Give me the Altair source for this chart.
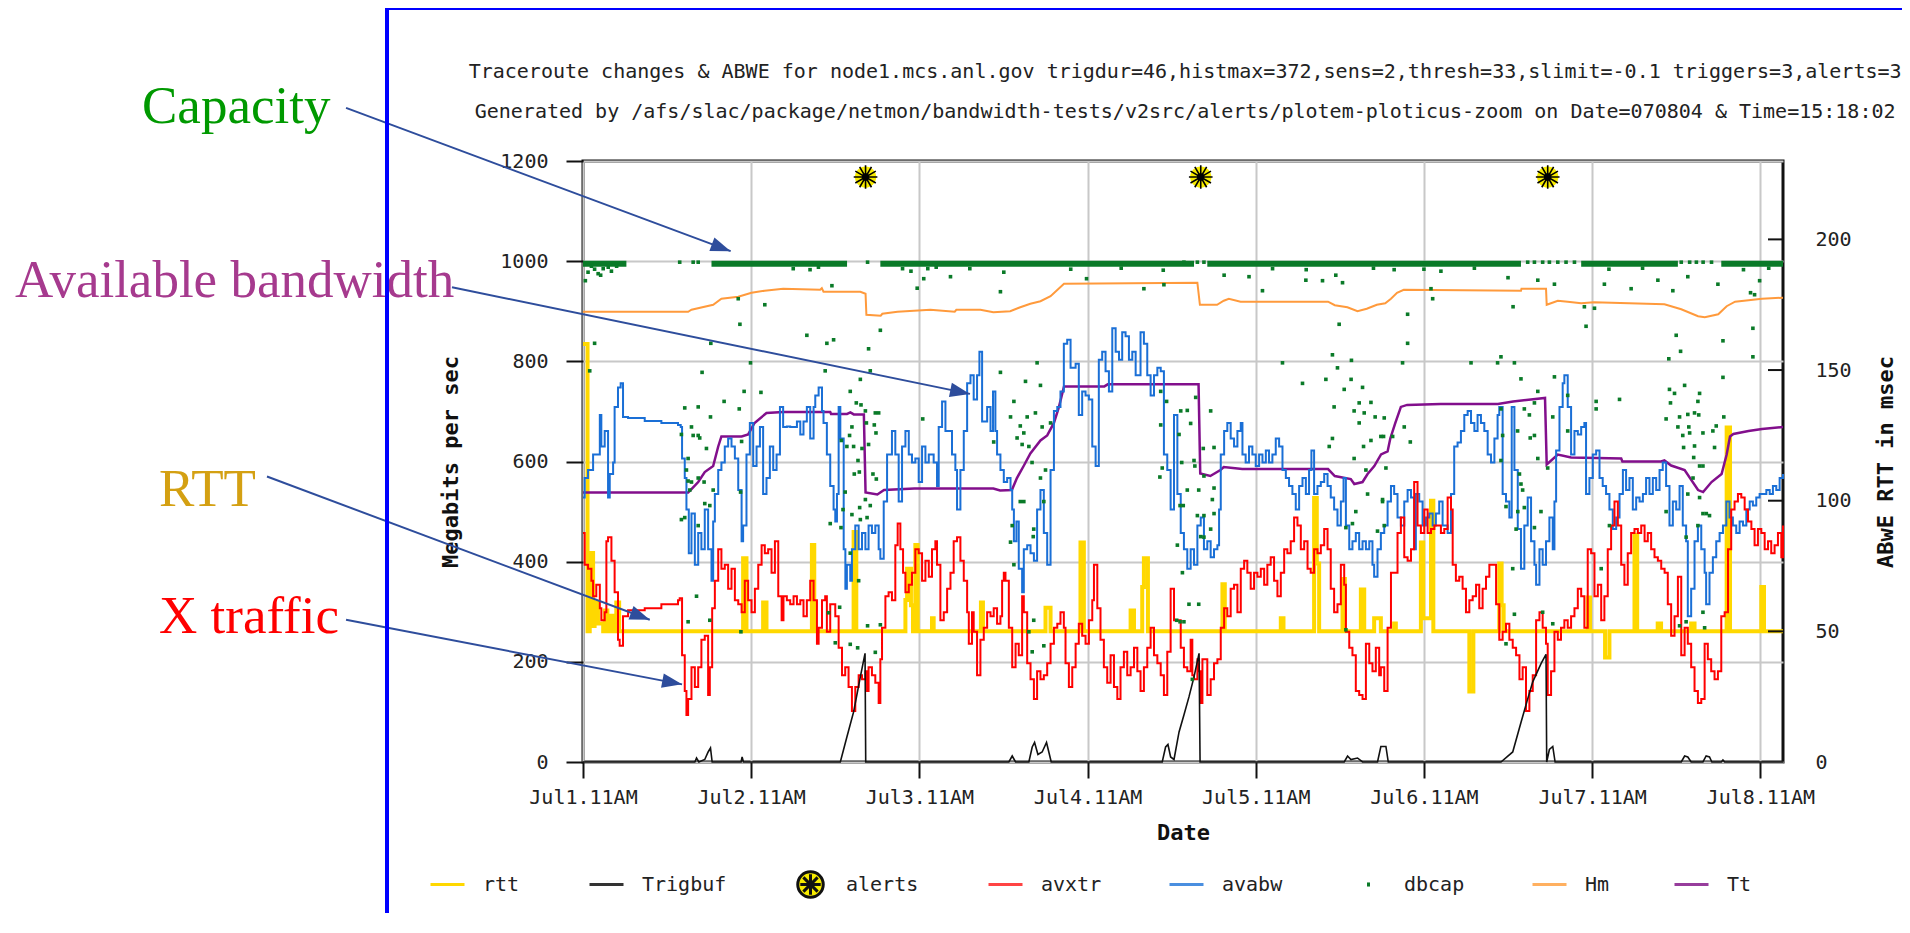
import math
import pandas as pd
import altair as alt

MONO = "DejaVu Sans Mono"
SERIF = "Liberation Serif"

# ---------------- text ----------------
title_lines = [
    "Traceroute changes & ABWE for node1.mcs.anl.gov trigdur=46,histmax=372,sens=2,thresh=33,slimit=-0.1 triggers=3,alerts=3",
    "Generated by /afs/slac/package/netmon/bandwidth-tests/v2src/alerts/plotem-ploticus-zoom on Date=070804 & Time=15:18:02",
]
title_day = [3.58, 3.58]
title_val = [1366, 1286]
tick_days = [0, 1, 2, 3, 4, 5, 6, 7]
tick_labels = ["Jul1.11AM", "Jul2.11AM", "Jul3.11AM", "Jul4.11AM",
               "Jul5.11AM", "Jul6.11AM", "Jul7.11AM", "Jul8.11AM"]
left_ticks = [0, 200, 400, 600, 800, 1000, 1200]
right_ticks = [0, 50, 100, 150, 200]
right_inner_ticks = [50, 100, 150, 200]
x_domain = [0, 7.135]
left_domain = [0, 1200]
right_domain = [0, 230]

legend_names = ["rtt", "Trigbuf", "alerts", "avxtr", "avabw", "dbcap", "Hm", "Tt"]
legend_offsets = [-154, 5, 209, 404, 585, 767, 948, 1090]   # legend entry left edges, px from plot left

# annotations (x in days, y in Mbps)
ann_text = ["Capacity", "Available bandwidth", "RTT", "X traffic"]
ann_color = ["#009900", "#a63a8e", "#d4a012", "#ff0000"]
ann_x = [-2.622, -3.377, -2.521, -2.521]
ann_y = [1276, 928, 511, 258]
arrow_x0 = [-1.409, -0.779, -1.879, -1.409]
arrow_y0 = [1306, 948, 570, 284]
arrow_x1 = [0.878, 2.301, 0.397, 0.589]
arrow_y1 = [1020, 735, 284, 155]

# ---------------- series (day offset from Jul1 11AM, value) ----------------
rtt_points = [
    (0.000, 160), (0.027, 50), (0.040, 80), (0.060, 52), (0.069, 61), (0.089, 53), (0.120, 50),
    (0.129, 58), (0.145, 50), (0.159, 56), (0.175, 50), (0.198, 61), (0.215, 50),
    (0.952, 78), (0.972, 50), (1.071, 61), (1.091, 50),
    (1.361, 83), (1.375, 50), (1.609, 88), (1.625, 50),
    (1.917, 62), (1.927, 74), (1.950, 60), (1.962, 50), (1.976, 83), (1.990, 50), (2.075, 55), (2.085, 50),
    (2.366, 61), (2.378, 50), (2.750, 59), (2.780, 50), (2.958, 84), (2.978, 50), (3.256, 58), (3.276, 50),
    (3.325, 67), (3.335, 78), (3.359, 50),
    (3.802, 68), (3.816, 50), (4.149, 55), (4.165, 50), (4.347, 101), (4.363, 76), (4.377, 50),
    (4.516, 70), (4.530, 50), (4.625, 66), (4.645, 50), (4.704, 55), (4.744, 50),
    (4.823, 53), (4.833, 50), (4.982, 84), (4.996, 55), (5.042, 100), (5.056, 50), (5.270, 27), (5.294, 50),
    (5.448, 76), (5.462, 60), (5.474, 50),
    (5.974, 63), (5.988, 50), (6.077, 40), (6.103, 50), (6.252, 87), (6.268, 50), (6.390, 53), (6.410, 50),
    (6.589, 53), (6.609, 50), (6.800, 128), (6.820, 50), (7.006, 67), (7.022, 50), (7.135, 50),
]

trig_points = [
    (0.000, 0), (0.665, 0), (0.675, 8), (0.689, 0), (0.724, 5), (0.744, 20), (0.758, 28), (0.768, 0),
    (0.940, 0), (0.946, 10), (0.954, 0), (1.530, 0), (1.569, 50), (1.609, 100), (1.649, 170),
    (1.677, 217), (1.681, 0), (2.532, 0), (2.552, 12), (2.572, 0), (2.651, 0), (2.671, 30), (2.685, 39),
    (2.705, 15), (2.730, 20), (2.756, 39), (2.784, 0), (3.444, 0), (3.464, 30), (3.478, 35), (3.494, 10),
    (3.514, 5), (3.544, 60), (3.573, 94), (3.603, 130), (3.633, 170), (3.663, 217), (3.669, 0),
    (4.526, 0), (4.546, 12), (4.566, 5), (4.605, 8), (4.635, 0), (4.724, 0), (4.744, 31), (4.774, 31),
    (4.788, 0), (5.458, 0), (5.528, 20), (5.577, 79), (5.617, 126), (5.647, 160), (5.697, 197),
    (5.726, 215), (5.730, 0), (5.746, 25), (5.766, 31), (5.780, 0), (6.530, 0), (6.550, 12), (6.569, 10),
    (6.589, 0), (6.659, 0), (6.678, 12), (6.698, 10), (6.712, 0), (6.768, 0), (6.778, 4), (6.788, 0),
    (7.135, 0),
]

alert_days = [1.680, 3.673, 5.736]
alert_vals = [1168, 1168, 1168]

avxtr_points = [
    (0.000, 457), (0.010, 394), (0.030, 386), (0.050, 362), (0.060, 331), (0.079, 354), (0.100, 307),
    (0.109, 283), (0.129, 299), (0.139, 441), (0.149, 449), (0.169, 402), (0.188, 339), (0.208, 244),
    (0.218, 232), (0.238, 291), (0.268, 303), (0.367, 307), (0.466, 315), (0.565, 323), (0.575, 327),
    (0.589, 213), (0.605, 142), (0.615, 94), (0.625, 126), (0.645, 189), (0.665, 150), (0.685, 189),
    (0.704, 244), (0.724, 252), (0.744, 134), (0.754, 189), (0.768, 307), (0.784, 362), (0.804, 425),
    (0.823, 386), (0.843, 394), (0.863, 346), (0.883, 386), (0.903, 323), (0.923, 315), (0.943, 299),
    (0.962, 362), (0.982, 323), (1.002, 299), (1.022, 346), (1.042, 394), (1.062, 433), (1.081, 417),
    (1.101, 425), (1.121, 378), (1.141, 441), (1.161, 331), (1.181, 283),
    (1.192, 331), (1.212, 323), (1.232, 315), (1.252, 331), (1.272, 315), (1.292, 323), (1.311, 291),
    (1.331, 323), (1.351, 362), (1.371, 323), (1.391, 236), (1.401, 268), (1.421, 323), (1.440, 331),
    (1.450, 260), (1.470, 315), (1.490, 315), (1.500, 291), (1.520, 228), (1.540, 173), (1.559, 189),
    (1.579, 150), (1.599, 102), (1.619, 150), (1.639, 173), (1.659, 165), (1.679, 181), (1.689, 142),
    (1.698, 189), (1.718, 173), (1.738, 158), (1.758, 118), (1.768, 205), (1.778, 268), (1.798, 331),
    (1.817, 339), (1.837, 323), (1.857, 433), (1.871, 476), (1.887, 425), (1.903, 378), (1.917, 339),
    (1.937, 354), (1.956, 378), (1.976, 425), (1.996, 417), (2.016, 362), (2.036, 402), (2.056, 370),
    (2.075, 425), (2.095, 441), (2.105, 394), (2.125, 283), (2.145, 299), (2.165, 346), (2.185, 378),
    (2.204, 441), (2.224, 449), (2.244, 402), (2.264, 362), (2.284, 299), (2.294, 236), (2.313, 299),
    (2.323, 260), (2.343, 173), (2.363, 244),
    (2.383, 268), (2.403, 299), (2.423, 291), (2.442, 307), (2.462, 276), (2.482, 291), (2.492, 362),
    (2.502, 378), (2.512, 362), (2.532, 268), (2.552, 189), (2.572, 236), (2.591, 213), (2.611, 331),
    (2.621, 299), (2.641, 197), (2.661, 165), (2.681, 126), (2.700, 181), (2.720, 165), (2.740, 173),
    (2.760, 197), (2.780, 236), (2.800, 268), (2.820, 276), (2.839, 299), (2.859, 268), (2.869, 197),
    (2.889, 150), (2.909, 189), (2.929, 236), (2.948, 276), (2.968, 252), (2.988, 236), (3.008, 283),
    (3.028, 323), (3.038, 394), (3.058, 307), (3.077, 244), (3.097, 189), (3.117, 158), (3.137, 213),
    (3.157, 150), (3.177, 126), (3.196, 189), (3.216, 220), (3.236, 173), (3.256, 189), (3.276, 228),
    (3.296, 181), (3.315, 142), (3.335, 189), (3.355, 228), (3.375, 268), (3.395, 213), (3.415, 197),
    (3.435, 173), (3.454, 134), (3.474, 220), (3.494, 346), (3.514, 283), (3.534, 283), (3.554, 228),
    (3.573, 189), (3.593, 181), (3.613, 244), (3.623, 173), (3.633, 165), (3.653, 205), (3.663, 181),
    (3.673, 118), (3.683, 205), (3.712, 134), (3.732, 165), (3.752, 197), (3.772, 205), (3.792, 268),
    (3.812, 307), (3.831, 291), (3.851, 346), (3.871, 354), (3.891, 299), (3.911, 386), (3.931, 402),
    (3.950, 378), (3.970, 346), (3.990, 378), (4.010, 370), (4.030, 386), (4.050, 354), (4.069, 394),
    (4.089, 409), (4.109, 362), (4.129, 331), (4.149, 378), (4.169, 425), (4.188, 417), (4.208, 441),
    (4.228, 488), (4.248, 472), (4.268, 425), (4.288, 441), (4.308, 386), (4.327, 378), (4.347, 425),
    (4.367, 417), (4.387, 433), (4.407, 465), (4.427, 425), (4.446, 346), (4.466, 299), (4.486, 315),
    (4.506, 394), (4.526, 354), (4.536, 260), (4.556, 228), (4.575, 213), (4.595, 142), (4.615, 134),
    (4.635, 126), (4.655, 236), (4.675, 197), (4.694, 181), (4.714, 228), (4.734, 173),
    (4.744, 189), (4.764, 142), (4.784, 268), (4.804, 378), (4.823, 378), (4.843, 457), (4.863, 488),
    (4.883, 409), (4.903, 402), (4.923, 425), (4.942, 559), (4.962, 472), (4.982, 457), (5.002, 504),
    (5.022, 457), (5.042, 465), (5.062, 472), (5.081, 472), (5.101, 457), (5.121, 465), (5.141, 528),
    (5.161, 504), (5.171, 394), (5.190, 362), (5.210, 370), (5.230, 346), (5.250, 299), (5.270, 323),
    (5.290, 331), (5.310, 354), (5.329, 307), (5.349, 346), (5.369, 370), (5.389, 394), (5.409, 394),
    (5.429, 315), (5.448, 244), (5.468, 260), (5.488, 276), (5.508, 244), (5.528, 228), (5.548, 213),
    (5.568, 165), (5.587, 189), (5.607, 102), (5.627, 142), (5.647, 173), (5.667, 283), (5.687, 299),
    (5.706, 268), (5.726, 236), (5.736, 134), (5.756, 181), (5.776, 260), (5.796, 244), (5.815, 268),
    (5.835, 283), (5.855, 268), (5.875, 291), (5.895, 307), (5.915, 346), (5.935, 331),
    (5.954, 268), (5.974, 425), (5.994, 417), (6.014, 331), (6.034, 354), (6.054, 283), (6.073, 331),
    (6.093, 425), (6.113, 472), (6.133, 520), (6.153, 472), (6.173, 394), (6.192, 354), (6.212, 417),
    (6.232, 457), (6.252, 465), (6.272, 457), (6.292, 472), (6.312, 441), (6.331, 457), (6.351, 425),
    (6.371, 409), (6.391, 402), (6.411, 386), (6.431, 378), (6.450, 315), (6.470, 252), (6.490, 291),
    (6.510, 370), (6.530, 213), (6.550, 268), (6.569, 236), (6.589, 189), (6.609, 142), (6.629, 118),
    (6.649, 126), (6.669, 236), (6.688, 205), (6.708, 181), (6.728, 165), (6.748, 181), (6.768, 291),
    (6.788, 299), (6.808, 425), (6.827, 504), (6.847, 520), (6.867, 535), (6.887, 528), (6.907, 504),
    (6.927, 480), (6.947, 465), (6.966, 433), (6.986, 465), (7.006, 457), (7.026, 425), (7.046, 441),
    (7.065, 417), (7.085, 433), (7.105, 457), (7.125, 409), (7.135, 472),
]

avabw_points = [
    (0.000, 528), (0.010, 567), (0.030, 583), (0.060, 614), (0.080, 614), (0.100, 693), (0.109, 630),
    (0.129, 661), (0.149, 528), (0.159, 575), (0.179, 598), (0.188, 709), (0.208, 748), (0.224, 756),
    (0.238, 689), (0.268, 687), (0.367, 681), (0.466, 677), (0.565, 673), (0.581, 669), (0.589, 606),
    (0.605, 567), (0.615, 504), (0.629, 417), (0.645, 496), (0.665, 394), (0.685, 457), (0.704, 425),
    (0.724, 504), (0.744, 425), (0.764, 362), (0.774, 480), (0.784, 535), (0.804, 583), (0.823, 598),
    (0.843, 630), (0.863, 646), (0.883, 630), (0.903, 606), (0.923, 543), (0.943, 441), (0.952, 472),
    (0.972, 614), (0.992, 677), (1.012, 591), (1.032, 630), (1.052, 669), (1.071, 535), (1.091, 567),
    (1.111, 630), (1.131, 583), (1.151, 614), (1.171, 709), (1.190, 669),
    (1.212, 670), (1.232, 669), (1.272, 680), (1.292, 654), (1.311, 680), (1.331, 709), (1.351, 646),
    (1.371, 709), (1.381, 732), (1.401, 748), (1.421, 701), (1.430, 677), (1.450, 614), (1.470, 551),
    (1.490, 504), (1.500, 480), (1.510, 535), (1.520, 709), (1.530, 646), (1.550, 425), (1.560, 346),
    (1.569, 394), (1.589, 362), (1.599, 425), (1.619, 472), (1.639, 425), (1.659, 457), (1.679, 425),
    (1.698, 472), (1.718, 457), (1.738, 472), (1.758, 425), (1.768, 406), (1.788, 520), (1.808, 614),
    (1.837, 661), (1.857, 614), (1.877, 520), (1.897, 630), (1.917, 661), (1.937, 614), (1.956, 598),
    (1.976, 606), (1.996, 559), (2.016, 630), (2.036, 598), (2.056, 614), (2.085, 598), (2.105, 551),
    (2.115, 669), (2.135, 720), (2.155, 661), (2.175, 661), (2.194, 614), (2.214, 583), (2.224, 504),
    (2.244, 583), (2.264, 661), (2.284, 756), (2.304, 772), (2.323, 724), (2.343, 772), (2.357, 819),
    (2.373, 680), (2.393, 680), (2.403, 709), (2.423, 661), (2.438, 740), (2.452, 661), (2.462, 614),
    (2.482, 583), (2.502, 559), (2.522, 567), (2.542, 543), (2.552, 504), (2.562, 441), (2.577, 480),
    (2.591, 386), (2.611, 339), (2.621, 425), (2.641, 433), (2.661, 417), (2.681, 402), (2.700, 504),
    (2.720, 543), (2.740, 457), (2.760, 394), (2.780, 583), (2.800, 701), (2.820, 709), (2.839, 740),
    (2.859, 835), (2.879, 843), (2.899, 787), (2.929, 795), (2.948, 693), (2.968, 740), (2.988, 732),
    (3.008, 724), (3.028, 630), (3.048, 591), (3.067, 803), (3.087, 819), (3.107, 780), (3.127, 740),
    (3.147, 866), (3.167, 819), (3.187, 803), (3.206, 858), (3.226, 850), (3.246, 803), (3.266, 819),
    (3.286, 772), (3.315, 858), (3.335, 835), (3.355, 772), (3.375, 732), (3.395, 772), (3.415, 787),
    (3.435, 780), (3.454, 614), (3.474, 583), (3.494, 504), (3.514, 693), (3.534, 535), (3.554, 457),
    (3.573, 425), (3.593, 386), (3.613, 425), (3.633, 394), (3.653, 472), (3.673, 488), (3.692, 425),
    (3.712, 441), (3.732, 409), (3.752, 425), (3.772, 433), (3.782, 504), (3.792, 614), (3.812, 661),
    (3.831, 677), (3.851, 646), (3.871, 630), (3.891, 661), (3.911, 677), (3.921, 614), (3.940, 598),
    (3.960, 630), (3.980, 614), (4.000, 591), (4.020, 614), (4.040, 598), (4.060, 622), (4.079, 598),
    (4.099, 614), (4.119, 646), (4.139, 630), (4.159, 583), (4.179, 567), (4.198, 551), (4.218, 535),
    (4.238, 504), (4.258, 551), (4.278, 567), (4.298, 535), (4.317, 583), (4.331, 622), (4.347, 535),
    (4.367, 551), (4.387, 559), (4.407, 575), (4.427, 551), (4.446, 528), (4.466, 504), (4.486, 472),
    (4.506, 520), (4.522, 567), (4.536, 472), (4.556, 425), (4.575, 441), (4.595, 457), (4.615, 425),
    (4.635, 441), (4.655, 425), (4.675, 441), (4.694, 394), (4.704, 370), (4.724, 425), (4.744, 457),
    (4.764, 472), (4.784, 520), (4.804, 551), (4.823, 535), (4.843, 488), (4.863, 472), (4.883, 520),
    (4.903, 543), (4.923, 528), (4.942, 425), (4.952, 535), (4.972, 520), (4.992, 472), (5.012, 488),
    (5.032, 496), (5.052, 472), (5.071, 496), (5.091, 520), (5.111, 472), (5.141, 457), (5.161, 535),
    (5.180, 630), (5.200, 638), (5.220, 661), (5.240, 693), (5.260, 701), (5.280, 677), (5.300, 661),
    (5.319, 693), (5.339, 677), (5.359, 661), (5.379, 614), (5.399, 598), (5.419, 646), (5.438, 693),
    (5.448, 709), (5.468, 535), (5.488, 520), (5.508, 488), (5.522, 709), (5.538, 583), (5.558, 465),
    (5.577, 386), (5.597, 472), (5.617, 528), (5.637, 441), (5.657, 394), (5.667, 354), (5.687, 425),
    (5.706, 394), (5.726, 441), (5.746, 488), (5.766, 425), (5.776, 520), (5.786, 622), (5.806, 709),
    (5.825, 756), (5.835, 772), (5.855, 709), (5.875, 614), (5.895, 661), (5.915, 654), (5.935, 669),
    (5.954, 677), (5.964, 535), (5.984, 567), (6.004, 614), (6.024, 622), (6.044, 567), (6.063, 551),
    (6.083, 535), (6.103, 504), (6.123, 465), (6.143, 488), (6.163, 535), (6.183, 583), (6.202, 543),
    (6.222, 567), (6.242, 504), (6.262, 528), (6.282, 520), (6.302, 535), (6.321, 567), (6.341, 535),
    (6.361, 567), (6.381, 543), (6.401, 583), (6.420, 598), (6.440, 551), (6.460, 472), (6.480, 520),
    (6.500, 504), (6.520, 551), (6.539, 472), (6.559, 441), (6.569, 291), (6.589, 346), (6.609, 441),
    (6.629, 472), (6.649, 425), (6.669, 378), (6.678, 315), (6.698, 378), (6.718, 409), (6.738, 441),
    (6.758, 457), (6.778, 472), (6.798, 520), (6.817, 488), (6.837, 472), (6.857, 457), (6.877, 480),
    (6.897, 472), (6.917, 504), (6.937, 520), (6.956, 512), (6.976, 528), (6.996, 535), (7.016, 535),
    (7.036, 543), (7.056, 535), (7.075, 551), (7.095, 543), (7.115, 567), (7.135, 575),
]

hm_points = [
    (0.000, 899), (0.625, 899), (0.645, 903), (0.774, 913), (0.823, 925), (0.923, 929), (1.002, 937),
    (1.080, 941), (1.190, 945), (1.410, 943), (1.420, 946), (1.430, 939), (1.649, 939), (1.680, 935),
    (1.685, 893), (1.770, 891), (1.780, 895), (1.870, 899), (2.065, 903), (2.210, 899), (2.220, 903),
    (2.363, 903), (2.440, 898), (2.540, 900), (2.600, 908), (2.660, 915), (2.720, 920), (2.780, 930),
    (2.860, 955), (3.653, 957), (3.668, 913), (3.770, 913), (3.810, 921), (3.840, 925), (3.910, 919),
    (4.430, 919), (4.470, 912), (4.545, 908), (4.605, 900), (4.660, 905), (4.720, 913), (4.770, 916),
    (4.804, 925), (4.840, 937), (4.880, 943), (5.577, 941), (5.580, 945), (5.726, 945), (5.730, 913),
    (5.796, 921), (5.855, 919), (5.935, 916), (6.010, 918), (6.430, 914), (6.530, 904), (6.630, 890),
    (6.670, 888), (6.750, 894), (6.800, 910), (6.850, 919), (6.930, 922), (7.010, 925), (7.135, 927),
]

tt_points = [
    (0.000, 538), (0.625, 538), (0.645, 545), (0.685, 559), (0.724, 579), (0.774, 591), (0.804, 630),
    (0.823, 650), (0.943, 650), (0.982, 654), (1.020, 677), (1.091, 697), (1.190, 699), (1.470, 699),
    (1.475, 695), (1.570, 695), (1.590, 698), (1.610, 694), (1.670, 694), (1.680, 538), (1.750, 534),
    (1.790, 543), (1.970, 546), (2.440, 546), (2.480, 542), (2.550, 543), (2.580, 567), (2.620, 591),
    (2.660, 616), (2.720, 642), (2.760, 652), (2.800, 677), (2.830, 709), (2.860, 750), (3.100, 750),
    (3.120, 754), (3.660, 754), (3.670, 576), (3.730, 571), (3.790, 583), (3.810, 589), (3.920, 585),
    (4.430, 585), (4.470, 571), (4.565, 565), (4.586, 555), (4.635, 559), (4.665, 575), (4.705, 591),
    (4.745, 614), (4.784, 620), (4.800, 646), (4.830, 677), (4.863, 709), (4.900, 713), (5.100, 715),
    (5.440, 715), (5.530, 720), (5.720, 727), (5.730, 594), (5.796, 614), (5.875, 608), (6.173, 606),
    (6.180, 600), (6.410, 600), (6.430, 602), (6.470, 592), (6.550, 583), (6.630, 543), (6.660, 539),
    (6.710, 559), (6.770, 575), (6.800, 614), (6.820, 650), (6.840, 655), (6.930, 661), (7.010, 665),
    (7.135, 669),
]

# dense capacity band (start day, end day) and its level
dbcap_band = [(0.000, 0.258), (0.764, 1.570), (1.768, 3.633), (3.712, 5.577), (5.935, 6.510), (6.768, 7.135)]
dbcap_band_level = 995

dbcap_dots = [
    (0.030, 978), (0.050, 990), (0.090, 975), (0.120, 985), (0.150, 988), (0.200, 990),
    (1.250, 985), (1.350, 983), (1.400, 988), (1.900, 985), (1.950, 980), (2.050, 985), (2.100, 988), (2.300, 985),
    (2.900, 984), (3.200, 986), (3.450, 982), (4.100, 985), (4.300, 983), (4.700, 986), (5.000, 984),
    (5.300, 986), (6.100, 984), (6.300, 986), (6.900, 983), (7.050, 986),
    (0.014, 961), (0.069, 836), (0.040, 781), (0.105, 972), (0.169, 980), (0.069, 984), (0.575, 998),
    (0.655, 998), (0.685, 998), (0.923, 925), (0.933, 874), (1.081, 913), (0.760, 836), (0.996, 797),
    (0.708, 778), (0.958, 740), (1.058, 738), (0.839, 720), (0.605, 707), (0.685, 709), (0.758, 689),
    (0.929, 705), (0.645, 669), (0.585, 654), (0.655, 652), (0.685, 652), (0.694, 647), (0.734, 626),
    (0.943, 640), (0.625, 606), (0.615, 583), (0.645, 559), (0.635, 543), (0.625, 561), (0.685, 567),
    (0.720, 559), (0.774, 543), (0.937, 539), (0.724, 516), (0.754, 512), (0.585, 484), (0.605, 488),
    (0.685, 472), (0.675, 331), (0.625, 280), (0.754, 283), (0.939, 260),
    (1.480, 951), (1.987, 946), (2.026, 965), (2.185, 969), (1.331, 852), (1.450, 836), (1.490, 843),
    (1.768, 862), (1.698, 825), (1.440, 781), (1.708, 781), (1.649, 764), (1.589, 740), (1.625, 717),
    (1.653, 713), (1.679, 701), (1.738, 697), (1.758, 697), (2.020, 685), (1.599, 669), (1.732, 673),
    (1.685, 677), (1.585, 652), (1.742, 657), (1.569, 630), (1.609, 630), (1.659, 626), (1.698, 634),
    (1.536, 642), (1.635, 602), (1.643, 579), (1.613, 575), (1.724, 575), (1.744, 565), (1.559, 539),
    (1.679, 524), (1.645, 508), (1.708, 512), (1.546, 504), (1.599, 494), (1.470, 476), (1.534, 468),
    (1.689, 488), (1.649, 484), (1.589, 417), (1.639, 362), (1.526, 309), (1.460, 298), (1.692, 272),
    (1.768, 274), (1.500, 238), (1.589, 235), (1.633, 228), (1.738, 219), (1.692, 998),
    (2.502, 978), (2.482, 939), (2.994, 965), (3.335, 945), (3.454, 953), (2.700, 797), (2.482, 778),
    (2.631, 760), (2.720, 752), (2.562, 720), (3.435, 740), (3.470, 720), (3.554, 701), (2.542, 689),
    (2.641, 689), (2.690, 697), (2.730, 669), (2.600, 671), (2.621, 657), (2.581, 647), (2.611, 634),
    (2.651, 630), (2.780, 677), (3.544, 654), (2.442, 639), (2.670, 598), (2.750, 583), (2.720, 567),
    (3.435, 673), (3.444, 587), (3.430, 569), (3.560, 598), (2.600, 520), (2.621, 520), (2.740, 520),
    (2.552, 472), (2.680, 465), (2.677, 450), (2.542, 439), (2.562, 394), (3.550, 512), (3.534, 433),
    (3.564, 378), (2.680, 283), (2.651, 260), (2.671, 220), (2.740, 232), (3.530, 283), (3.550, 280),
    (3.812, 972), (3.960, 969), (4.040, 941), (4.298, 962), (4.397, 961), (4.476, 972), (4.516, 957),
    (4.496, 874), (4.456, 813), (4.159, 797), (4.569, 802), (4.486, 787), (4.417, 764), (4.278, 756),
    (4.567, 764), (4.635, 748), (3.643, 728), (4.526, 744), (4.615, 717), (4.685, 718), (4.466, 709),
    (4.585, 701), (4.645, 697), (4.710, 689), (3.593, 702), (3.613, 676), (3.732, 701), (4.615, 677),
    (4.456, 646), (4.437, 630), (4.685, 642), (4.744, 650), (3.688, 626), (3.752, 628), (4.641, 630),
    (3.633, 602), (4.585, 606), (4.655, 583), (3.638, 591), (3.692, 571), (3.593, 543), (3.661, 543),
    (3.752, 547), (4.665, 535), (3.742, 524), (3.569, 512), (4.754, 520), (3.653, 492), (3.692, 492),
    (3.752, 496), (4.595, 500), (4.575, 476), (3.692, 449), (3.673, 450), (4.536, 468), (3.732, 465),
    (4.724, 461), (3.573, 280), (3.603, 315), (3.661, 315), (3.623, 165), (4.536, 264), (3.573, 998),
    (3.653, 998), (3.692, 998),
    (5.042, 945), (5.052, 925), (5.101, 980), (5.500, 967), (5.530, 909), (5.677, 962), (5.776, 954),
    (4.903, 894), (4.823, 983), (4.903, 836), (4.873, 797), (5.280, 797), (5.438, 797), (5.458, 809),
    (5.538, 797), (5.577, 765), (5.776, 769), (5.677, 740), (5.855, 732), (4.764, 687), (5.597, 705),
    (5.627, 693), (5.657, 717), (5.458, 705), (4.883, 669), (4.814, 650), (4.919, 639), (5.557, 661),
    (5.632, 647), (5.657, 652), (5.468, 652), (5.766, 689), (5.855, 661), (4.760, 650), (5.458, 602),
    (5.677, 606), (5.736, 587), (5.568, 575), (4.774, 587), (5.577, 555), (5.587, 543), (4.754, 524),
    (5.488, 510), (5.558, 500), (5.696, 500), (5.597, 508), (4.764, 472), (5.657, 468), (5.548, 465),
    (5.528, 386), (5.538, 295), (5.706, 299), (5.766, 276), (5.488, 236), (5.617, 998), (5.657, 998),
    (5.706, 998), (5.746, 998), (5.796, 998), (5.845, 998), (5.895, 998),
    (6.073, 954), (6.232, 945), (6.391, 962), (6.480, 941), (6.569, 969), (6.748, 954), (6.942, 937),
    (6.966, 933), (6.996, 961), (5.954, 909), (6.014, 906), (5.964, 870), (6.956, 866), (6.500, 852),
    (6.778, 841), (6.526, 820), (6.456, 805), (6.956, 809), (6.778, 768), (6.550, 752), (6.460, 744),
    (6.490, 736), (6.639, 736), (6.163, 724), (6.024, 720), (6.466, 717), (6.629, 720), (6.024, 705),
    (6.609, 697), (6.634, 693), (6.569, 694), (6.520, 689), (6.783, 689), (6.440, 685), (6.575, 669),
    (6.510, 669), (6.738, 671), (6.718, 661), (6.539, 652), (6.580, 657), (6.659, 657), (6.609, 631),
    (6.728, 628), (6.544, 628), (6.604, 608), (6.639, 591), (6.659, 591), (6.600, 567), (6.569, 535),
    (6.639, 528), (6.659, 496), (6.679, 496), (6.698, 492), (6.440, 500), (6.629, 472), (6.103, 472),
    (6.559, 449), (6.054, 386), (6.659, 299), (6.559, 280), (6.520, 272), (6.669, 268), (6.530, 998),
    (6.580, 998), (6.620, 998), (6.660, 998), (6.710, 998),
]

# ---------------- styling ----------------
W, H = 1200, 601
PAD = {"left": 575, "top": 153, "right": 119, "bottom": 151}

RTT_C = "#ffd800"
TRIG_C = "#111111"
AVXTR_C = "#ff0000"
AVABW_C = "#1a6fd6"
DBCAP_C = "#0a7a28"
HM_C = "#ff9a3c"
TT_C = "#820f8c"
ALERT_FILL = "#f8ec00"
ARROW_C = "#2e4d9c"
legend_colors = ["#ffd800", "#333333", "#111111", "#ff4444", "#4a8fe0", "#0a7a28", "#ffb060", "#973d9c"]

SPOKES = ("M-1,0L1,0M-0.866,-0.5L0.866,0.5M-0.5,-0.866L0.5,0.866M0,-1L0,1"
          "M0.5,-0.866L-0.5,0.866M0.866,-0.5L-0.866,0.5")
LINE_SYM = "M-1,0L1,0"
ALERT_LEGEND = ("M-0.75,0A0.75,0.75 0 1,1 0.75,0A0.75,0.75 0 1,1 -0.75,0Z"
                "M-0.6,0L0.6,0M0,-0.6L0,0.6M-0.42,-0.42L0.42,0.42M-0.42,0.42L0.42,-0.42")
DOT = "M0,-0.12L0,0.12"
legend_shapes = [LINE_SYM, LINE_SYM, ALERT_LEGEND, LINE_SYM, LINE_SYM, DOT, LINE_SYM, LINE_SYM]
ARROW_HEAD = "M0,0L-1,-0.36L-1,0.36Z"

# ---------------- scales / axes ----------------
xscale = alt.Scale(domain=x_domain, nice=False, zero=False)
label_expr = "[" + ",".join("'%s'" % s for s in tick_labels) + "][datum.value]"
xaxis = alt.Axis(values=tick_days, labelExpr=label_expr, title="Date", tickSize=16, tickWidth=2,
                 tickColor="#111111", labelPadding=9, labelFlush=False, labelOverlap=False,
                 grid=True, gridColor="#c8c8c8", gridWidth=2, domain=False,
                 titleX=W / 2, titleY=70, titleAlign="center", titleBaseline="middle")
yscale = alt.Scale(domain=left_domain, nice=False)
yaxis = alt.Axis(values=left_ticks, format="d", title="Megabits per sec", tickSize=17, tickWidth=2,
                 tickColor="#111111", labelPadding=18, grid=True, gridColor="#c8c8c8", gridWidth=2,
                 domain=False, titleAngle=270, titleX=-133, titleY=H / 2, titleAlign="center",
                 titleBaseline="middle")
rscale = alt.Scale(domain=right_domain, nice=False)
raxis = alt.Axis(orient="right", values=right_ticks, format="d", title="ABwE RTT in msec", tickSize=0,
                 labelPadding=32, grid=False, domain=False, titleAngle=270, titleX=102,
                 titleY=H / 2, titleAlign="center", titleBaseline="middle")


def X(f):
    return alt.X(f"{f}:Q", scale=xscale, axis=xaxis)


def YL(f):
    return alt.Y(f"{f}:Q", scale=yscale, axis=yaxis)


def YR(f):
    return alt.Y(f"{f}:Q", scale=rscale, axis=raxis)


def frame(points, cols=("day", "val")):
    return pd.DataFrame(points, columns=list(cols))


# ---------------- right-axis layer (rtt) ----------------
rtt_line = alt.Chart(frame(rtt_points, ("day", "ms"))).mark_line(
    color=RTT_C, strokeWidth=4, interpolate="step-after").encode(x=X("day"), y=YR("ms"))
px_per_day = W / (x_domain[1] - x_domain[0])
rt_df = pd.DataFrame({"ms": right_inner_ticks,
                      "a": [x_domain[1] - 15 / px_per_day] * len(right_inner_ticks),
                      "b": [x_domain[1]] * len(right_inner_ticks)})
rticks = alt.Chart(rt_df).mark_rule(color="#111111", strokeWidth=2).encode(
    x=X("a"), x2=alt.X2("b"), y=YR("ms"))
right_group = alt.layer(rtt_line, rticks)

# ---------------- left-axis layers ----------------
hm_line = alt.Chart(frame(hm_points)).mark_line(color=HM_C, strokeWidth=2).encode(x=X("day"), y=YL("val"))
tt_line = alt.Chart(frame(tt_points)).mark_line(color=TT_C, strokeWidth=2.5).encode(x=X("day"), y=YL("val"))
avabw_line = alt.Chart(frame(avabw_points)).mark_line(
    color=AVABW_C, strokeWidth=2, interpolate="step-after").encode(x=X("day"), y=YL("val"))
avxtr_line = alt.Chart(frame(avxtr_points)).mark_line(
    color=AVXTR_C, strokeWidth=2, interpolate="step-after").encode(x=X("day"), y=YL("val"))
trig_line = alt.Chart(frame(trig_points)).mark_line(color=TRIG_C, strokeWidth=1.6).encode(x=X("day"), y=YL("val"))

band_df = pd.DataFrame({"a": [s for s, e in dbcap_band], "b": [e for s, e in dbcap_band],
                        "val": [dbcap_band_level] * len(dbcap_band)})
band = alt.Chart(band_df).mark_rule(color=DBCAP_C, strokeWidth=6).encode(
    x=X("a"), x2=alt.X2("b"), y=YL("val"))
dots = alt.Chart(frame(dbcap_dots)).mark_square(color=DBCAP_C, size=13, opacity=1).encode(
    x=X("day"), y=YL("val"))

al_df = pd.DataFrame({"day": alert_days, "val": alert_vals})
al_disc = alt.Chart(al_df).mark_circle(color=ALERT_FILL, size=452, opacity=1).encode(x=X("day"), y=YL("val"))
al_spokes = alt.Chart(al_df).mark_point(shape=SPOKES, filled=False, color="#000000", strokeWidth=1.6,
                                        size=560, opacity=1).encode(x=X("day"), y=YL("val"))
al_core = alt.Chart(al_df).mark_circle(color="#000000", size=55, opacity=1).encode(x=X("day"), y=YL("val"))

# title lines (placed through the chart scales, above the plot)
title_df = pd.DataFrame({"x": title_day, "y": title_val, "t": title_lines})
title_layer = alt.Chart(title_df).mark_text(align="center", baseline="alphabetic", font=MONO,
                                            fontSize=20, color="#222222").encode(
    x=X("x"), y=YL("y"), text="t:N")

# annotations
px_per_unit = H / (left_domain[1] - left_domain[0])
angles = []
for i in range(len(arrow_x0)):
    dxp = (arrow_x1[i] - arrow_x0[i]) * px_per_day
    dyp = -(arrow_y1[i] - arrow_y0[i]) * px_per_unit
    angles.append(math.degrees(math.atan2(dyp, dxp)) % 360)
arr_df = pd.DataFrame({"x0": arrow_x0, "y0": arrow_y0, "x1": arrow_x1, "y1": arrow_y1, "ang": angles})
arrows = alt.Chart(arr_df).mark_rule(color=ARROW_C, strokeWidth=2).encode(
    x=X("x0"), x2=alt.X2("x1"), y=YL("y0"), y2=alt.Y2("y1"))
heads = alt.Chart(arr_df).mark_point(shape=ARROW_HEAD, filled=True, color=ARROW_C, size=1600,
                                     opacity=1).encode(x=X("x1"), y=YL("y1"),
                                                       angle=alt.Angle("ang:Q", scale=None))
ann_layers = []
for i in range(len(ann_text)):
    d = pd.DataFrame({"x": [ann_x[i]], "y": [ann_y[i]], "t": [ann_text[i]]})
    ann_layers.append(alt.Chart(d).mark_text(align="left", baseline="alphabetic", font=SERIF,
                                             fontSize=53, color=ann_color[i]).encode(
        x=X("x"), y=YL("y"), text="t:N"))

# page frame (blue border on left and top)
border_left = alt.Chart(pd.DataFrame({"k": [0]})).mark_rule(color="#0000ff", strokeWidth=4).encode(
    x=alt.value(-196), y=alt.value(-155), y2=alt.value(H + PAD["bottom"]))
border_top = alt.Chart(pd.DataFrame({"k": [0]})).mark_rule(color="#0000ff", strokeWidth=4).encode(
    x=alt.value(-198), x2=alt.value(W + PAD["right"]), y=alt.value(-153))

# legend: one single-entry legend per series, each placed at its own spot in the row
legend_layers = []
for i, name in enumerate(legend_names):
    leg = alt.Legend(orient="none", legendX=legend_offsets[i], legendY=705, direction="horizontal",
                     symbolSize=1156, symbolStrokeWidth=3, labelOffset=17,
                     labelFont=MONO, labelFontSize=20, labelColor="#222222", title=None, padding=0)
    legend_layers.append(alt.Chart(pd.DataFrame({"series": [name]})).mark_point(
        filled=False, fill=ALERT_FILL, opacity=1, strokeWidth=3, clip=True).encode(
        x=alt.value(-3000), y=alt.value(-3000),
        color=alt.Color("series:N", scale=alt.Scale(domain=[name], range=[legend_colors[i]]), legend=leg),
        shape=alt.Shape("series:N", scale=alt.Scale(domain=[name], range=[legend_shapes[i]]), legend=leg),
    ))

left_group = alt.layer(hm_line, tt_line, avabw_line, avxtr_line, trig_line, band, dots,
                       al_disc, al_spokes, al_core, title_layer, arrows, heads, *ann_layers,
                       border_left, border_top, *legend_layers).resolve_scale(
    color="independent", shape="independent")

chart = alt.layer(right_group, left_group).resolve_scale(y="independent").properties(
    width=W, height=H, padding=PAD, autosize=alt.AutoSizeParams(type="none"),
).configure_axis(
    labelFont=MONO, labelFontSize=20, labelColor="#222222",
    titleFont=MONO, titleFontSize=22, titleFontWeight="bold", titleColor="#111111",
).configure_view(stroke="#111111", strokeWidth=3)

chart.save("out.html", embed_options={"renderer": "svg", "actions": False})
